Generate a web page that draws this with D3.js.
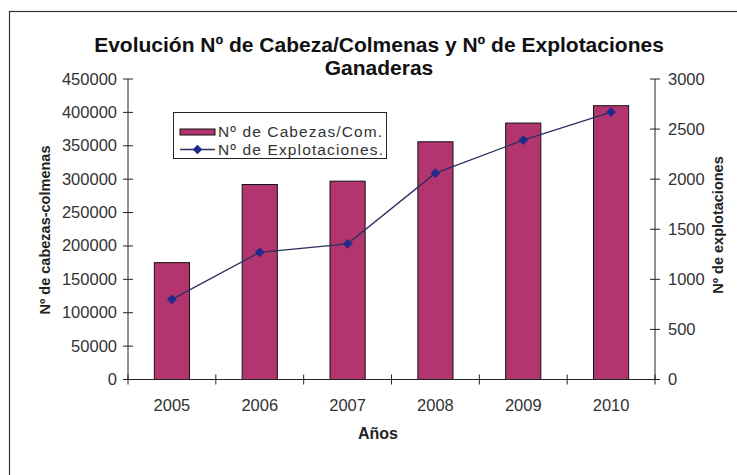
<!DOCTYPE html>
<html>
<head>
<meta charset="utf-8">
<script src="https://cdn.jsdelivr.net/npm/d3@7"></script>
<style>
  body { margin: 0; background: #fff; }
  svg { display: block; font-family: Arial, "Liberation Sans", sans-serif; }
</style>
</head>
<body>
<svg width="737" height="475"></svg>
<script>
const years = ["2005", "2006", "2007", "2008", "2009", "2010"];
const cabezas = [175000, 292000, 297000, 356000, 384000, 410000];
const explotaciones = [800, 1270, 1355, 2060, 2390, 2670];
const leftTicks = [0, 50000, 100000, 150000, 200000, 250000, 300000, 350000, 400000, 450000];
const rightTicks = [0, 500, 1000, 1500, 2000, 2500, 3000];

const svg = d3.select("svg");

// frame (cut off at right and bottom like the scan)
svg.append("rect")
  .attr("x", 9.5).attr("y", 11.5)
  .attr("width", 760).attr("height", 500)
  .attr("fill", "none").attr("stroke", "#333").attr("stroke-width", 1.2);

const x = d3.scaleBand().domain(years).range([128, 655]).paddingInner(0.6).paddingOuter(0.3);
const yL = d3.scaleLinear().domain([0, 450000]).range([379.5, 79]);
const yR = d3.scaleLinear().domain([0, 3000]).range([379.5, 79]);

// title
svg.append("text").attr("x", 379).attr("y", 52).attr("text-anchor", "middle")
  .attr("font-size", 21).attr("font-weight", "bold").attr("fill", "#111")
  .text("Evolución Nº de Cabeza/Colmenas y Nº de Explotaciones");
svg.append("text").attr("x", 379).attr("y", 75).attr("text-anchor", "middle")
  .attr("font-size", 21).attr("font-weight", "bold").attr("fill", "#111")
  .text("Ganaderas");

// bars
svg.selectAll(".bar").data(years).enter().append("rect")
  .attr("class", "bar")
  .attr("x", d => x(d))
  .attr("y", (d, i) => yL(cabezas[i]))
  .attr("width", x.bandwidth())
  .attr("height", (d, i) => yL(0) - yL(cabezas[i]))
  .attr("fill", "#B3356F").attr("stroke", "#111").attr("stroke-width", 1);

// axes
const axisColor = "#222";
svg.append("line").attr("x1", 128).attr("x2", 128).attr("y1", yL(450000)).attr("y2", yL(0)).attr("stroke", axisColor);
svg.append("line").attr("x1", 655).attr("x2", 655).attr("y1", yR(3000)).attr("y2", yR(0)).attr("stroke", axisColor);
svg.append("line").attr("x1", 128).attr("x2", 655).attr("y1", yL(0)).attr("y2", yL(0)).attr("stroke", axisColor);

const lt = svg.selectAll(".lt").data(leftTicks).enter().append("g");
lt.append("line").attr("x1", 123).attr("x2", 133).attr("y1", d => yL(d)).attr("y2", d => yL(d)).attr("stroke", axisColor);
lt.append("text").attr("x", 117).attr("y", d => yL(d) + 5.5).attr("text-anchor", "end")
  .attr("font-size", 16.5).attr("fill", "#333").text(d => d);

const rt = svg.selectAll(".rt").data(rightTicks).enter().append("g");
rt.append("line").attr("x1", 650).attr("x2", 660).attr("y1", d => yR(d)).attr("y2", d => yR(d)).attr("stroke", axisColor);
rt.append("text").attr("x", 668).attr("y", d => yR(d) + 5.5)
  .attr("font-size", 16.5).attr("fill", "#333").text(d => d);

// x ticks at category boundaries
svg.selectAll(".xt").data(d3.range(years.length + 1)).enter().append("line")
  .attr("x1", i => 128 + i * x.step()).attr("x2", i => 128 + i * x.step())
  .attr("y1", yL(0) - 5).attr("y2", yL(0) + 5).attr("stroke", axisColor);
svg.selectAll(".xl").data(years).enter().append("text")
  .attr("x", d => x(d) + x.bandwidth() / 2).attr("y", 411)
  .attr("text-anchor", "middle").attr("font-size", 16.5).attr("fill", "#333").text(d => d);

// axis titles
svg.append("text").attr("x", 378).attr("y", 439).attr("text-anchor", "middle")
  .attr("font-size", 16).attr("font-weight", "bold").attr("fill", "#222").text("Años");
svg.append("text").attr("transform", "translate(50,230) rotate(-90)").attr("text-anchor", "middle")
  .attr("font-size", 14.5).attr("font-weight", "bold").attr("fill", "#222").text("Nº de cabezas-colmenas");
svg.append("text").attr("transform", "translate(723,225) rotate(-90)").attr("text-anchor", "middle")
  .attr("font-size", 14.5).attr("font-weight", "bold").attr("fill", "#222").text("Nº de explotaciones");

// line series
const line = d3.line()
  .x((d, i) => x(years[i]) + x.bandwidth() / 2)
  .y(d => yR(d));
svg.append("path").datum(explotaciones).attr("d", line)
  .attr("fill", "none").attr("stroke", "#2a2f5e").attr("stroke-width", 1.3);
const diamond = d3.symbol().type(d3.symbolDiamond2).size(60);
svg.selectAll(".mk").data(explotaciones).enter().append("path")
  .attr("d", diamond)
  .attr("transform", (d, i) => "translate(" + (x(years[i]) + x.bandwidth() / 2) + "," + yR(d) + ")")
  .attr("fill", "#1f2a8c");

// legend
const lg = svg.append("g");
lg.append("rect").attr("x", 173.5).attr("y", 112.5).attr("width", 213).attr("height", 46)
  .attr("fill", "#fff").attr("stroke", "#222");
lg.append("rect").attr("x", 180).attr("y", 129).attr("width", 35).attr("height", 6)
  .attr("fill", "#B3356F").attr("stroke", "#111");
lg.append("text").attr("x", 218).attr("y", 137).attr("font-size", 15.5).attr("fill", "#333")
  .attr("textLength", 164).text("Nº de Cabezas/Com.");
lg.append("line").attr("x1", 180).attr("x2", 215).attr("y1", 149.5).attr("y2", 149.5)
  .attr("stroke", "#2a2f5e").attr("stroke-width", 1.3);
lg.append("path").attr("d", diamond).attr("transform", "translate(197.5,149.5)").attr("fill", "#1f2a8c");
lg.append("text").attr("x", 218).attr("y", 155).attr("font-size", 15.5).attr("fill", "#333")
  .attr("textLength", 165).text("Nº de Explotaciones.");
</script>
</body>
</html>
